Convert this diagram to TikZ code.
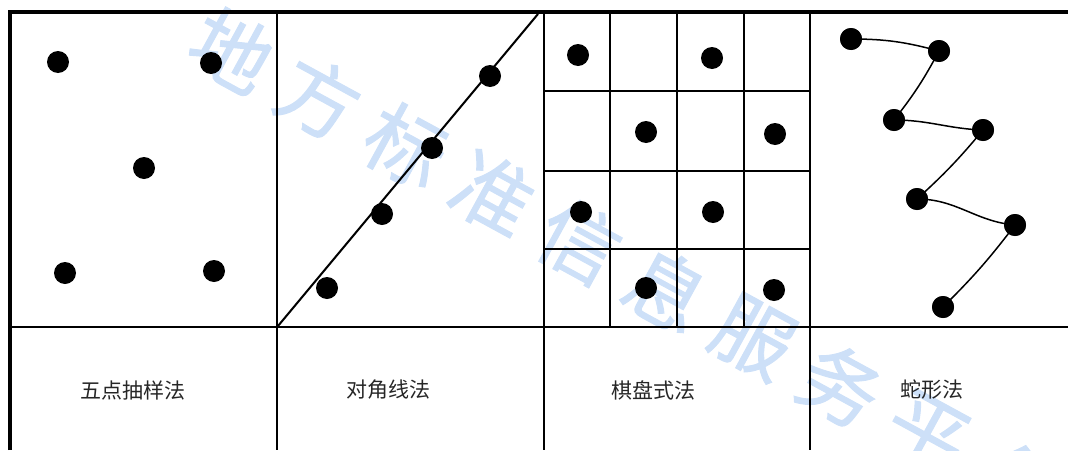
\documentclass[tikz,border=0pt]{standalone}
\usepackage{fontspec}
\newfontfamily\cjk{Noto Sans CJK SC}
\newfontfamily\wmfont[FakeBold=1.2]{Noto Sans CJK SC}
\definecolor{wmblue}{RGB}{205,224,248}
\begin{document}
\begin{tikzpicture}[x=1pt,y=-1pt,
  dot/.style={circle,fill=black,inner sep=0pt,minimum size=22pt},
  thin rule/.style={line width=2pt},
  frame rule/.style={line width=4pt},
  snakeline/.style={line width=1.5pt},
  label/.style={font=\cjk\fontsize{21}{21}\selectfont,text=black!85,inner sep=0pt},
  wm/.style={font=\wmfont\fontsize{80}{80}\selectfont,text=wmblue,rotate=-28.6,inner sep=0pt}]
\useasboundingbox (0,0) rectangle (1068,450);
% watermark
\foreach \ch [count=\i from 0] in {地,方,标,准,信,息,服,务,平,台}
  \node[wm] (w\i) at ({232+86.9*\i},{50+47.9*\i}) {\ch};
% table rules
\draw[thin rule] (10,327) -- (1068,327);
\foreach \x in {277,544,810} \draw[thin rule] (\x,12) -- (\x,450);
\foreach \y in {91,171,249} \draw[thin rule] (544,\y) -- (810,\y);
\foreach \x in {610,677,744} \draw[thin rule] (\x,12) -- (\x,327);
\draw[frame rule] (10,450) -- (10,12) -- (1068,12);
% five-point
\node[dot] (a1) at (58,62) {};
\node[dot] (a2) at (211,63) {};
\node[dot] (a3) at (144,168) {};
\node[dot] (a4) at (65,273) {};
\node[dot] (a5) at (214,271) {};
% diagonal
\coordinate (d0) at (278,326);
\coordinate (d9) at (538,14);
\draw[line width=2pt] (d0) -- (d9);
\node[dot] (b1) at (327,288) {};
\node[dot] (b2) at (382,214) {};
\node[dot] (b3) at (432,148) {};
\node[dot] (b4) at (490,76) {};
% checkerboard
\node[dot] (c1) at (578,55) {};
\node[dot] (c2) at (712,58) {};
\node[dot] (c3) at (646,132) {};
\node[dot] (c4) at (775,134) {};
\node[dot] (c5) at (581,212) {};
\node[dot] (c6) at (713,212) {};
\node[dot] (c7) at (646,288) {};
\node[dot] (c8) at (774,290) {};
% snake
\node[dot] (s1) at (851,39) {};
\node[dot] (s2) at (939,51) {};
\node[dot] (s3) at (894,120) {};
\node[dot] (s4) at (983,130) {};
\node[dot] (s5) at (917,199) {};
\node[dot] (s6) at (1015,225) {};
\node[dot] (s7) at (943,307) {};
\draw[snakeline] (s1.center) to[out=0,in=165] (s2.center);
\draw[snakeline] (s2.center) to[bend left=5] (s3.center);
\draw[snakeline] (s3.center) to[out=0,in=178] (s4.center);
\draw[snakeline] (s4.center) to[bend left=4] (s5.center);
\draw[snakeline] (s5.center) to[out=0,in=175] (s6.center);
\draw[snakeline] (s6.center) to[bend left=4] (s7.center);
\foreach \n in {s1,s2,s3,s4,s5,s6,s7} \fill (\n) circle (11pt);
% labels
\node[label] (l1) at (133,390) {五点抽样法};
\node[label] (l2) at (388,390) {对角线法};
\node[label] (l3) at (653,390) {棋盘式法};
\node[label] (l4) at (932,390) {蛇形法};
\end{tikzpicture}
\end{document}
